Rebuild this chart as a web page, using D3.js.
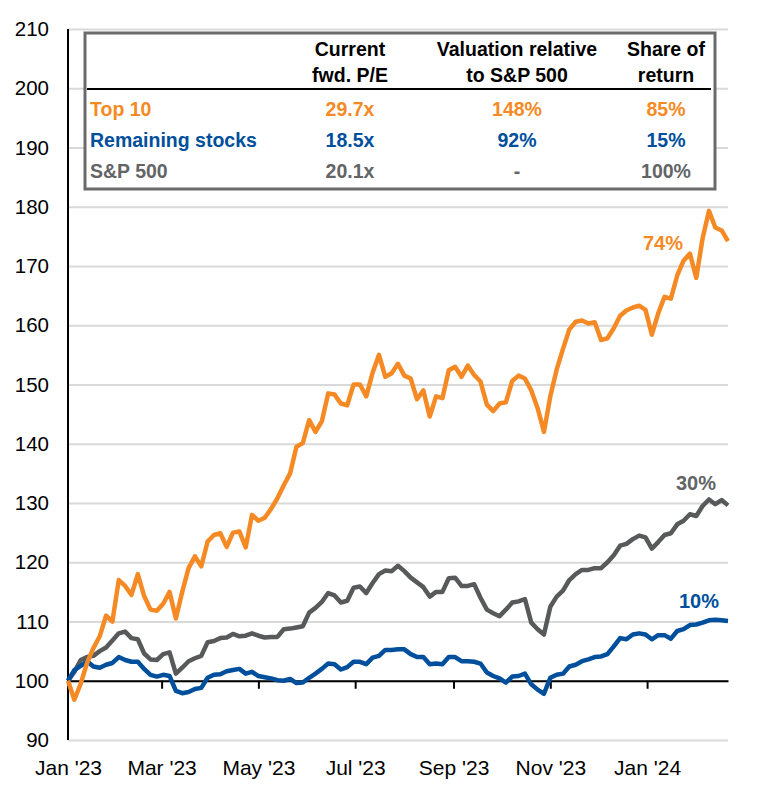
<!DOCTYPE html>
<html>
<head>
<meta charset="utf-8">
<script src="https://cdn.jsdelivr.net/npm/d3@7"></script>
<style>
  body { margin: 0; background: #fff; }
  svg { display: block; font-family: "Liberation Sans", Arial, sans-serif; }
</style>
</head>
<body>
<div id="chart"></div>
<script>
// index levels (Jan '23 = 100), one reading every 4 days
var top10 = [100, 96.8, 99.5, 103, 105.5, 107.5, 111, 110, 117, 116, 114.5, 118, 114.3, 112, 111.8, 113, 115, 110.5, 115, 119,
  121, 119.3, 123.5, 124.6, 124.9, 122.6, 125, 125.2, 122.5, 128, 127, 127.5, 129, 130.8, 133, 135, 139.5, 140.1, 144, 142,
  143.8, 148.5, 148.3, 146.8, 146.5, 150, 150, 148, 152, 155, 151.3, 151.9, 153.5, 151.5, 151, 147.5, 149, 144.6, 148, 147.7,
  152.4, 153, 151.3, 153.2, 151.6, 150.5, 146.6, 145.5, 146.8, 147, 150.6, 151.5, 151, 149, 146, 142, 148, 152.5, 156, 159.3,
  160.6, 160.8, 160.3, 160.5, 157.5, 157.8, 159.5, 161.6, 162.5, 163, 163.3, 162.6, 158.4, 162, 164.8, 164.5, 168.4, 170.9, 172.1, 168,
  174.7, 179.3, 176.5, 176, 174.2];
var remaining = [100, 101.8, 102.5, 103.3, 102.4, 102.2, 102.7, 103, 104, 103.5, 103.2, 103.2, 102, 101, 100.7, 101, 100.8, 98.3, 97.9, 98.1,
  98.6, 98.8, 100.5, 101, 101.1, 101.6, 101.8, 102, 101.2, 101.5, 100.8, 100.6, 100.4, 100.1, 100, 100.3, 99.6, 99.7, 100.5, 101.2,
  102, 102.9, 102.8, 101.9, 102.3, 103.2, 103.2, 102.8, 103.9, 104.2, 105.2, 105.2, 105.3, 105.3, 104.5, 104, 104, 102.8, 102.9, 102.8,
  104, 104, 103.3, 103.3, 103.2, 102.9, 101.4, 100.8, 100.4, 99.7, 100.7, 100.8, 101.2, 99.4, 98.5, 97.8, 100.5, 101, 101.2, 102.4,
  102.7, 103.3, 103.6, 104, 104.1, 104.5, 105.8, 107.2, 107, 107.8, 108, 107.8, 107, 107.7, 107.7, 107.1, 108.4, 108.7, 109.4, 109.5,
  109.8, 110.2, 110.3, 110.2, 110.1];
var sp500 = [100, 101.5, 103.5, 104, 104.2, 105, 105.6, 106.8, 108, 108.3, 107.2, 107, 104.6, 103.6, 103.5, 104.5, 104.8, 101.2, 102.2, 103.3,
  103.8, 104.2, 106.5, 106.7, 107.2, 107.3, 107.9, 107.5, 107.6, 108, 107.6, 107.3, 107.4, 107.4, 108.7, 108.8, 109, 109.2, 111.5, 112.3,
  113.3, 114.8, 114.4, 113.2, 113.5, 115.7, 115.9, 114.8, 116.5, 118, 118.6, 118.5, 119.4, 118.5, 117.4, 116.6, 115.8, 114.2, 115, 115,
  117.3, 117.4, 116, 116, 116.3, 114, 112, 111.4, 110.9, 112, 113.2, 113.4, 113.8, 109.8, 108.7, 107.8, 112.5, 114.2, 115.2, 117,
  118, 118.7, 118.7, 119, 119, 120, 121.2, 122.8, 123.1, 123.9, 124.5, 124.2, 122.3, 123.4, 124.6, 124.9, 126.4, 127, 128.1, 127.8,
  129.5, 130.6, 129.8, 130.5, 129.6];

var dates = d3.timeDay.range(new Date(2023, 0, 1), new Date(2024, 1, 22), 4);

var seriesNames = ["Top 10", "Remaining stocks", "S&P 500"];
var colors = ["#f58a25", "#004f9c", "#58595b"];
var textColors = ["#f58a25", "#004f9c", "#636466"];
var endLabels = ["74%", "10%", "30%"];

// table
var headers = [["Current", "fwd. P/E"], ["Valuation relative", "to S&P 500"], ["Share of", "return"]];
var peValues = ["29.7x", "18.5x", "20.1x"];
var relValues = ["148%", "92%", "-"];
var shareValues = ["85%", "15%", "100%"];

var yTicks = d3.range(90, 211, 10);

const width = 758;
const height = 792;

var x = d3.scaleTime()
  .domain([dates[0], dates[dates.length - 1]])
  .range([68, 728]);
var y = d3.scaleLinear().domain([90, 210]).range([740, 29]);

var svg = d3.select("#chart").append("svg")
  .attr("width", width)
  .attr("height", height);

// gridlines
svg.append("g")
  .attr("transform", "translate(68,0)")
  .call(d3.axisLeft(y).tickValues(yTicks).tickSize(-660).tickFormat(""))
  .call(g => g.select(".domain").remove())
  .call(g => g.selectAll("line").attr("stroke", "#d9d9d9").attr("stroke-width", 2));

// y labels
svg.append("g")
  .attr("transform", "translate(49,0)")
  .call(d3.axisLeft(y).tickValues(yTicks).tickSize(0).tickPadding(0))
  .call(g => g.select(".domain").remove())
  .call(g => g.selectAll("text")
    .attr("font-size", 20.5)
    .attr("font-family", "Liberation Sans, Arial, sans-serif")
    .attr("fill", "#000"));

// y axis line
svg.append("line")
  .attr("x1", 68).attr("x2", 68)
  .attr("y1", y(210)).attr("y2", y(90))
  .attr("stroke", "#000").attr("stroke-width", 2);

// x axis at 100 with ticks every two months
var months = d3.timeMonth.every(2).range(new Date(2023, 0, 1), new Date(2024, 1, 2));
svg.append("g")
  .attr("transform", "translate(0," + y(100) + ")")
  .call(d3.axisBottom(x).tickValues(months).tickSize(8).tickSizeOuter(0).tickFormat(""))
  .call(g => g.select(".domain").attr("stroke", "#000").attr("stroke-width", 2))
  .call(g => g.selectAll("line").attr("stroke", "#000").attr("stroke-width", 2));

// x labels at the bottom
svg.append("g")
  .attr("transform", "translate(0," + 760 + ")")
  .call(d3.axisBottom(x).tickValues(months).tickSize(0).tickPadding(0).tickFormat(d3.timeFormat("%b '%y")))
  .call(g => g.select(".domain").remove())
  .call(g => g.selectAll("text")
    .attr("font-size", 21)
    .attr("font-family", "Liberation Sans, Arial, sans-serif")
    .attr("fill", "#000"));

// lines
var allSeries = [top10, remaining, sp500];
var line = d3.line()
  .x((d, i) => x(dates[i]))
  .y(d => y(d));

[2, 1, 0].forEach(function (s) {
  svg.append("path")
    .datum(allSeries[s])
    .attr("fill", "none")
    .attr("stroke", colors[s])
    .attr("stroke-width", 4.5)
    .attr("stroke-linejoin", "round")
    .attr("d", line);
});

// end labels
var endPos = [[683, 250], [719, 608], [716, 490]];
endLabels.forEach(function (t, i) {
  svg.append("text")
    .attr("x", endPos[i][0]).attr("y", endPos[i][1])
    .attr("text-anchor", "end")
    .attr("font-size", 20)
    .attr("font-weight", "bold")
    .attr("fill", textColors[i])
    .text(t);
});

// table box
var tbl = svg.append("g");
tbl.append("rect")
  .attr("x", 85).attr("y", 33)
  .attr("width", 630).attr("height", 156)
  .attr("fill", "#fff")
  .attr("stroke", "#6b6b6b")
  .attr("stroke-width", 3);

tbl.append("line")
  .attr("x1", 87).attr("x2", 711)
  .attr("y1", 89).attr("y2", 89)
  .attr("stroke", "#000").attr("stroke-width", 2);

var colX = [350, 517, 666];
headers.forEach(function (h, i) {
  h.forEach(function (t, j) {
    tbl.append("text")
      .attr("x", colX[i]).attr("y", 56 + j * 26)
      .attr("text-anchor", "middle")
      .attr("font-size", 19.5)
      .attr("font-weight", "bold")
      .attr("fill", "#000")
      .text(t);
  });
});

var rowY = [116, 147, 178];
seriesNames.forEach(function (n, i) {
  tbl.append("text")
    .attr("x", 90).attr("y", rowY[i])
    .attr("font-size", 19.5)
    .attr("font-weight", "bold")
    .attr("fill", textColors[i])
    .text(n);
  [peValues, relValues, shareValues].forEach(function (col, c) {
    tbl.append("text")
      .attr("x", colX[c]).attr("y", rowY[i])
      .attr("text-anchor", "middle")
      .attr("font-size", 19.5)
      .attr("font-weight", "bold")
      .attr("fill", textColors[i])
      .text(col[i]);
  });
});
</script>
</body>
</html>
